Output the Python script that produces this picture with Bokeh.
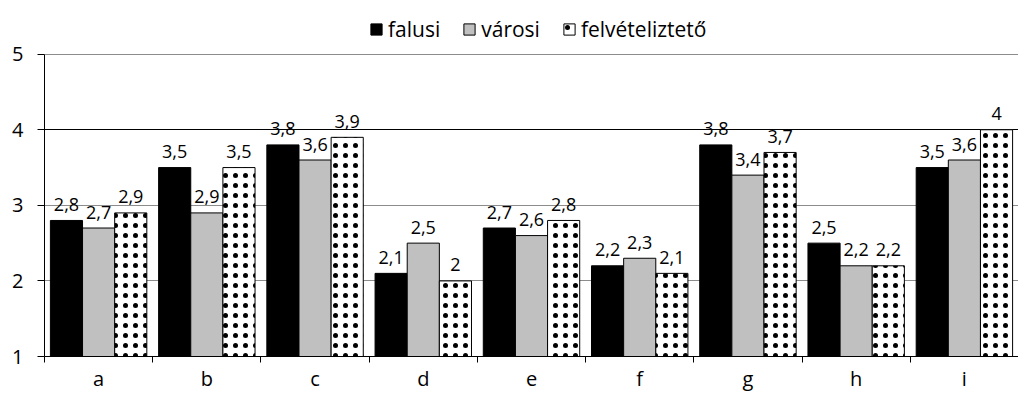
from bokeh.plotting import figure
from bokeh.models import (ColumnDataSource, Range1d, FixedTicker, Legend, LegendItem,
                          Grid, CustomJSTickFormatter)
from bokeh.transform import dodge
from bokeh.core.properties import value
from bokeh.embed import file_html
from bokeh.resources import INLINE

# ---- data ----
categories = ["a", "b", "c", "d", "e", "f", "g", "h", "i"]
falusi = [2.8, 3.5, 3.8, 2.1, 2.7, 2.2, 3.8, 2.5, 3.5]
varosi = [2.7, 2.9, 3.6, 2.5, 2.6, 2.3, 3.4, 2.2, 3.6]
felveteli = [2.9, 3.5, 3.9, 2.0, 2.8, 2.1, 3.7, 2.2, 4.0]
series_names = ["falusi", "városi", "felvételiztető"]
y_ticks = [1, 2, 3, 4, 5]

FONT = "Open Sans"

def fmt(v):
    return ("%g" % v).replace(".", ",")

centers = [i + 0.5 for i in range(len(categories))]
bounds = list(range(len(categories) + 1))

src = ColumnDataSource(dict(
    x=centers,
    falusi=falusi, varosi=varosi, felveteli=felveteli,
    l_falusi=[fmt(v) for v in falusi],
    l_varosi=[fmt(v) for v in varosi],
    l_felveteli=[fmt(v) for v in felveteli],
))

W, H = 1018, 394
TOP, BOTTOM, LEFT = 2, 36, 44
frame_h = H - TOP - BOTTOM            # 356 px
px_per_unit = 76.0
y_top = 1 + frame_h / px_per_unit     # leaves room for the legend above 5

p = figure(width=W, height=H, output_backend="svg", toolbar_location=None,
           x_range=Range1d(0, len(categories)), y_range=Range1d(1, y_top),
           min_border_left=LEFT, min_border_right=0, min_border_top=TOP,
           min_border_bottom=BOTTOM)
p.outline_line_color = None
p.background_fill_color = "white"

# grid
p.xgrid.visible = False
p.ygrid.ticker = FixedTicker(ticks=y_ticks)
p.ygrid.grid_line_color = "#8c8c8c"
p.ygrid.grid_line_width = 1
g4 = Grid(dimension=1, ticker=FixedTicker(ticks=[4]), grid_line_color="black",
          grid_line_width=1)
p.add_layout(g4, "center")

# y axis
p.yaxis.ticker = FixedTicker(ticks=y_ticks)
p.yaxis.bounds = (1, 5)
p.yaxis.major_tick_out = 7
p.yaxis.major_tick_in = 0
p.yaxis.minor_tick_out = 0
p.yaxis.minor_tick_in = 0
p.yaxis.axis_line_color = "black"
p.yaxis.major_tick_line_color = "black"
p.yaxis.major_label_standoff = 14
p.yaxis.major_label_text_font = FONT
p.yaxis.major_label_text_font_size = "20px"
p.yaxis.major_label_text_color = "black"

# x axis
p.xaxis.ticker = FixedTicker(ticks=centers, minor_ticks=bounds)
p.xaxis.formatter = CustomJSTickFormatter(args=dict(labels=categories),
                                          code="return labels[Math.floor(tick)];")
p.xaxis.major_tick_out = 0
p.xaxis.major_tick_in = 0
p.xaxis.minor_tick_out = 6
p.xaxis.minor_tick_in = 0
p.xaxis.minor_tick_line_color = "black"
p.xaxis.axis_line_color = "black"
p.xaxis.major_label_standoff = 2
p.xaxis.major_label_text_font = FONT
p.xaxis.major_label_text_font_size = "20px"
p.xaxis.major_label_text_color = "black"

BW = 0.297
r1 = p.vbar(x=dodge("x", -BW, range=p.x_range), top="falusi", bottom=1, width=BW,
            source=src, fill_color="black", line_color="black", line_width=1)
r2 = p.vbar(x=dodge("x", 0, range=p.x_range), top="varosi", bottom=1, width=BW,
            source=src, fill_color="#c0c0c0", line_color="black", line_width=1)
r3 = p.vbar(x=dodge("x", BW, range=p.x_range), top="felveteli", bottom=1, width=BW,
            source=src, fill_color="white", line_color="black", line_width=1,
            hatch_pattern="dot", hatch_color="black", hatch_scale=10,
            hatch_weight=0.5)

for off, col in [(-BW, "l_falusi"), (0, "l_varosi"), (BW, "l_felveteli")]:
    ycol = col[2:]
    p.text(x=dodge("x", off, range=p.x_range), y=ycol, text=col, source=src,
           text_align="center", text_baseline="alphabetic", y_offset=-16,
           text_font=value(FONT), text_font_size="18px", text_color="black")

# legend centred ~26px from the top of the picture
legend_bottom_px = 45
legend = Legend(items=[LegendItem(label=series_names[0], renderers=[r1]),
                       LegendItem(label=series_names[1], renderers=[r2]),
                       LegendItem(label=series_names[2], renderers=[r3])],
                orientation="horizontal",
                location=(325, H - BOTTOM - legend_bottom_px),
                glyph_width=14, glyph_height=14, label_standoff=5, spacing=22,
                padding=0, margin=0, border_line_color=None,
                background_fill_alpha=0,
                label_text_font=FONT, label_text_font_size="21px",
                label_text_color="black")
p.add_layout(legend, "center")

open("out.html", "w").write(file_html(p, INLINE))
